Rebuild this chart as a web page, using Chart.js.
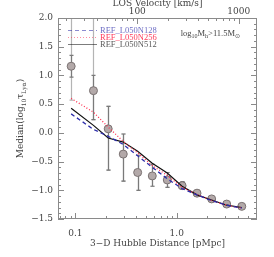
<!DOCTYPE html>
<html>
<head>
<meta charset="utf-8">
<script src="https://cdn.jsdelivr.net/npm/chart.js@4/dist/chart.umd.min.js"></script>
<style>
html, body { margin: 0; padding: 0; background: #fff; }
</style>
</head>
<body>
<canvas id="chart" width="274" height="257"></canvas>
<script>
// DATA
const distance = [0.091, 0.151, 0.211, 0.297, 0.412, 0.574, 0.807, 1.13, 1.585, 2.21, 3.11, 4.38];
const medianObs = [1.16, 0.735, 0.07, -0.37, -0.69, -0.75, -0.82, -0.92, -1.05, -1.15, -1.24, -1.28];
const outerLo = [0.57, 0.23, -0.65, -0.84, -1.0, -0.93, -0.95, -0.98, -1.09, -1.17, -1.26, -1.30];
const outerHi = [2.3, 2.3, 0.46, -0.02, -0.39, -0.55, -0.69, -0.85, -1.00, -1.13, -1.22, -1.26];
const innerLo = [0.97, 0.23, -0.65, -0.84, -1.0, -0.93, -0.95, -0.98, -1.09, -1.17, -1.26, -1.30];
const innerHi = [1.35, 1.0, 0.46, -0.02, -0.39, -0.55, -0.69, -0.85, -1.00, -1.13, -1.22, -1.26];
const n128 = [0.33, 0.06, -0.06, -0.20, -0.40, -0.60, -0.80, -0.97, -1.08, -1.18, -1.26, -1.31];
const n256 = [0.60, 0.36, 0.10, -0.15, -0.35, -0.57, -0.74, -0.95, -1.07, -1.18, -1.26, -1.31];
const n512 = [0.43, 0.13, -0.09, -0.16, -0.32, -0.53, -0.70, -0.93, -1.08, -1.17, -1.26, -1.30];
const seriesNames = ["REF_L050N128", "REF_L050N256", "REF_L050N512"];

const xTicks = [0.1, 1];
const xTickLabels = ["0.1", "1.0"];
const velTicks = [100, 1000];
const velTickLabels = ["100", "1000"];
const yTicks = [-1.5, -1.0, -0.5, 0.0, 0.5, 1.0, 1.5, 2.0];
const yTickLabels = ["\u22121.5", "\u22121.0", "\u22120.5", "0.0", "0.5", "1.0", "1.5", "2.0"];

const H = 245;            // km/s per pMpc
const xMin = 0.0675, xMax = 6.19;

const FONT = "DejaVu Serif";
const SMALLFONT = "Liberation Serif";
const TXT = "#444";

const pts = (ys) => distance.map((d, i) => ({ x: d, y: ys[i] }));

// error bars, frame, inward ticks, legend, annotations
const idl = {
    id: "idl",
    beforeDatasetsDraw(chart) {
        const { ctx, chartArea: a, scales: { x, y } } = chart;
        ctx.save();
        ctx.beginPath();
        ctx.rect(a.left, a.top, a.right - a.left, a.bottom - a.top);
        ctx.clip();
        const bar = (lo, hi, col) => {
            distance.forEach((d, i) => {
                const px = Math.round(x.getPixelForValue(d)) + 0.5;
                const y1 = y.getPixelForValue(lo[i]), y2 = y.getPixelForValue(hi[i]);
                ctx.strokeStyle = col;
                ctx.lineWidth = 1.2;
                ctx.beginPath();
                ctx.moveTo(px, y1); ctx.lineTo(px, y2);
                ctx.moveTo(px - 2, y1); ctx.lineTo(px + 2, y1);
                ctx.moveTo(px - 2, y2); ctx.lineTo(px + 2, y2);
                ctx.stroke();
            });
        };
        bar(outerLo, outerHi, "#b4b4b4");
        bar(innerLo, innerHi, "#7a7a7a");
        ctx.restore();
    },
    afterDraw(chart) {
        const { ctx, chartArea: a, scales: { x, x2, y } } = chart;
        ctx.save();
        ctx.strokeStyle = "#8a8a8a";
        ctx.lineWidth = 1;
        ctx.strokeRect(a.left + 0.5, a.top + 0.5, a.right - a.left - 1, a.bottom - a.top - 1);

        ctx.beginPath();
        // y ticks left and right
        for (let i = -15; i <= 20; i++) {
            const py = Math.round(y.getPixelForValue(i / 10)) + 0.5;
            const len = i % 5 === 0 ? 6 : 3;
            ctx.moveTo(a.left, py); ctx.lineTo(a.left + len, py);
            ctx.moveTo(a.right, py); ctx.lineTo(a.right - len, py);
        }
        // log ticks bottom
        for (let d = -2; d <= 1; d++) {
            for (let m = 1; m <= 9; m++) {
                const v = m * Math.pow(10, d);
                if (v < xMin || v > xMax) continue;
                const px = Math.round(x.getPixelForValue(v)) + 0.5;
                const len = m === 1 ? 6 : 3;
                ctx.moveTo(px, a.bottom); ctx.lineTo(px, a.bottom - len);
            }
        }
        // log ticks top (velocity)
        for (let d = 1; d <= 3; d++) {
            for (let m = 1; m <= 9; m++) {
                const v = m * Math.pow(10, d);
                if (v < xMin * H || v > xMax * H) continue;
                const px = Math.round(x2.getPixelForValue(v)) + 0.5;
                const len = m === 1 ? 6 : 3;
                ctx.moveTo(px, a.top); ctx.lineTo(px, a.top + len);
            }
        }
        ctx.stroke();

        // legend
        const ds = chart.data.datasets;
        const legCols = ["#6e6ec4", "#ff3a5a", "#5a5a5a"];
        ctx.font = "8.5px '" + SMALLFONT + "'";
        ctx.textBaseline = "middle";
        [0, 1, 2].forEach(k => {
            const ly = 30.5 + k * 7;
            ctx.strokeStyle = ds[k].borderColor;
            ctx.globalAlpha = 0.55;
            ctx.setLineDash(ds[k].borderDash || []);
            ctx.lineWidth = 1;
            ctx.beginPath();
            ctx.moveTo(68, ly); ctx.lineTo(97, ly);
            ctx.stroke();
            ctx.globalAlpha = 1;
            ctx.setLineDash([]);
            ctx.fillStyle = legCols[k];
            ctx.textAlign = "left";
            ctx.fillText(ds[k].label, 100, ly + 0.5);
        });

        // mass cut annotation
        const parts = [["log", 0], ["10", 1], ["M", 0], ["h", 1], [">11.5M", 0], ["\u2299", 1]];
        const big = "8.5px '" + SMALLFONT + "'", small = "6px '" + SMALLFONT + "'";
        let w = 0;
        parts.forEach(p => { ctx.font = p[1] ? small : big; w += ctx.measureText(p[0]).width; });
        let cx = 240 - w;
        ctx.fillStyle = TXT;
        ctx.textAlign = "left";
        ctx.textBaseline = "alphabetic";
        parts.forEach(p => {
            ctx.font = p[1] ? small : big;
            ctx.fillText(p[0], cx, p[1] ? 38 : 36);
            cx += ctx.measureText(p[0]).width;
        });

        // y title with subscripts
        const tparts = [["Median(log", 0], ["10", 1], ["\u03c4", 0], ["Ly\u03b1", 1], [")", 0]];
        const tb = "9px '" + FONT + "'", ts = "6px '" + FONT + "'";
        let tw = 0;
        tparts.forEach(p => { ctx.font = p[1] ? ts : tb; tw += ctx.measureText(p[0]).width; });
        ctx.translate(23, (a.top + a.bottom) / 2);
        ctx.rotate(-Math.PI / 2);
        let tx = -tw / 2;
        tparts.forEach(p => {
            ctx.font = p[1] ? ts : tb;
            ctx.fillText(p[0], tx, p[1] ? 2.5 : 0);
            tx += ctx.measureText(p[0]).width;
        });
        ctx.restore();
    }
};

const ctx = document.getElementById("chart").getContext("2d");
const axisFont = { family: FONT, size: 9 };

const chart = new Chart(ctx, {
    type: "line",
    data: {
        datasets: [
            { label: seriesNames[0], data: pts(n128), borderColor: "#2c2caa", borderDash: [4, 3], borderWidth: 1.3, pointRadius: 0, fill: false, tension: 0 },
            { label: seriesNames[1], data: pts(n256), borderColor: "#ff3050", borderDash: [1, 2], borderWidth: 1.3, pointRadius: 0, fill: false, tension: 0 },
            { label: seriesNames[2], data: pts(n512), borderColor: "#111111", borderWidth: 1.2, pointRadius: 0, fill: false, tension: 0 },
            { label: "median", data: pts(medianObs), showLine: false, pointRadius: 4, pointBackgroundColor: "#b3a9a9", pointBorderColor: "#7a7272", pointBorderWidth: 1 }
        ]
    },
    options: {
        responsive: false,
        animation: false,
        devicePixelRatio: 1,
        layout: { padding: { left: 0, right: 17, top: 0, bottom: 0 } },
        plugins: { legend: { display: false }, tooltip: { enabled: false } },
        scales: {
            x: {
                type: "logarithmic", position: "bottom", min: xMin, max: xMax,
                grid: { display: false, drawTicks: false }, border: { display: false },
                afterBuildTicks: s => { s.ticks = xTicks.map(v => ({ value: v })); },
                afterFit: s => { s.height = 38; },
                ticks: { callback: (v, i) => xTickLabels[i], padding: 9, maxRotation: 0, autoSkip: false, color: TXT, font: axisFont },
                title: { display: true, text: "3\u2212D Hubble Distance [pMpc]", color: TXT, padding: { top: 0, bottom: 8 }, font: axisFont }
            },
            x2: {
                type: "logarithmic", position: "top", min: xMin * H, max: xMax * H,
                grid: { display: false, drawTicks: false }, border: { display: false },
                afterBuildTicks: s => { s.ticks = velTicks.map(v => ({ value: v })); },
                afterFit: s => { s.height = 18; },
                ticks: { callback: (v, i) => velTickLabels[i], padding: 1, maxRotation: 0, autoSkip: false, color: TXT, font: axisFont },
                title: { display: true, text: "LOS Velocity [km/s]", color: TXT, padding: { top: -2, bottom: 0 }, font: axisFont }
            },
            y: {
                type: "linear", position: "left", min: -1.5, max: 2.0,
                grid: { display: false, drawTicks: false }, border: { display: false },
                afterBuildTicks: s => { s.ticks = yTicks.map(v => ({ value: v })); },
                afterFit: s => { s.width = 58; },
                ticks: { callback: (v, i) => yTickLabels[i], padding: 5, autoSkip: false, color: TXT, font: axisFont }
            }
        }
    },
    plugins: [idl]
});
</script>
</body>
</html>
